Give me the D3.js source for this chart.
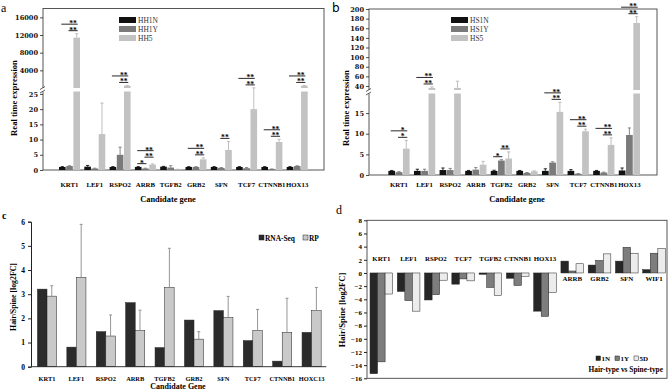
<!DOCTYPE html>
<html>
<head>
<meta charset="utf-8">
<script src="https://cdn.jsdelivr.net/npm/d3@7"></script>
<style>
  body { margin: 0; background: #fff; }
  svg text { font-family: "Liberation Serif", "Times New Roman", serif; }
</style>
</head>
<body>
<svg id="fig" width="669" height="390"></svg>
<script>
// ---------- data ----------
const genesAB = ["KRT1", "LEF1", "RSPO2", "ARRB", "TGFB2", "GRB2", "SFN", "TCF7", "CTNNB1", "HOX13"];

// panel a: hair-type groups
const seriesA = ["HH1N", "HH1Y", "HH5"];
const hh1n = [1.0, 1.1, 1.0, 1.0, 1.1, 1.0, 1.0, 1.0, 1.0, 1.0];
const hh1nSd = [0.1, 0.4, 0.1, 0.1, 0.1, 0.1, 0.1, 0.1, 0.1, 0.1];
const hh1y = [1.3, 0.5, 5.0, 0.5, 0.8, 1.0, 0.7, 0.6, 0.3, 1.3];
const hh1ySd = [0.1, 0.1, 2.5, 0.1, 0.6, 0.1, 0.1, 0.2, 0.05, 0.1];
const hh5 = [11400, 11.8, 500, 1.8, 0.2, 3.5, 6.6, 20.0, 9.2, 500];
const hh5Sd = [900, 10.2, 80, 0.2, 0.05, 0.5, 2.8, 6.0, 0.9, 80];
const sigA = [
  ["KRT1", "HH1Y", "HH5", "**"], ["KRT1", "HH1N", "HH5", "**"],
  ["RSPO2", "HH1Y", "HH5", "**"], ["RSPO2", "HH1N", "HH5", "**"],
  ["ARRB", "HH1N", "HH1Y", "*"], ["ARRB", "HH1Y", "HH5", "**"], ["ARRB", "HH1N", "HH5", "**"],
  ["GRB2", "HH1Y", "HH5", "**"], ["GRB2", "HH1N", "HH5", "**"],
  ["SFN", "HH1Y", "HH5", "**"],
  ["TCF7", "HH1Y", "HH5", "**"], ["TCF7", "HH1N", "HH5", "**"],
  ["CTNNB1", "HH1Y", "HH5", "**"], ["CTNNB1", "HH1N", "HH5", "**"],
  ["HOX13", "HH1Y", "HH5", "**"], ["HOX13", "HH1N", "HH5", "**"]
];

// panel b: spine-type groups
const seriesB = ["HS1N", "HS1Y", "HS5"];
const hs1n = [1.0, 1.0, 1.2, 1.0, 1.0, 1.0, 1.0, 1.0, 1.0, 1.1];
const hs1nSd = [0.1, 0.4, 0.5, 0.1, 0.15, 0.1, 0.5, 0.3, 0.1, 0.6];
const hs1y = [0.7, 1.0, 1.2, 1.3, 3.5, 0.5, 3.0, 0.3, 0.6, 9.7];
const hs1ySd = [0.1, 0.4, 0.4, 0.5, 0.2, 0.1, 0.2, 0.05, 0.1, 1.7];
const hs5 = [6.4, 36, 36, 2.5, 4.0, 0.9, 15.3, 10.6, 7.3, 171];
const hs5Sd = [2.0, 2, 14, 0.8, 1.6, 0.1, 2.3, 0.5, 1.7, 13];
const sigB = [
  ["KRT1", "HS1Y", "HS5", "*"], ["KRT1", "HS1N", "HS5", "*"],
  ["LEF1", "HS1Y", "HS5", "**"], ["LEF1", "HS1N", "HS5", "**"],
  ["TGFB2", "HS1N", "HS1Y", "*"], ["TGFB2", "HS1Y", "HS5", "**"],
  ["SFN", "HS1Y", "HS5", "**"], ["SFN", "HS1N", "HS5", "**"],
  ["TCF7", "HS1Y", "HS5", "**"], ["TCF7", "HS1N", "HS5", "**"],
  ["CTNNB1", "HS1Y", "HS5", "**"], ["CTNNB1", "HS1N", "HS5", "**"],
  ["HOX13", "HS1Y", "HS5", "**"], ["HOX13", "HS1N", "HS5", "**"]
];

// panel c: RNA-Seq vs RT-PCR
const genesC = ["KRT1", "LEF1", "RSPO2", "ARRB", "TGFB2", "GRB2", "SFN", "TCF7", "CTNNB1", "HOXC13"];
const seriesC = ["RNA-Seq", "RP"];
const rnaSeq = [3.21, 0.81, 1.45, 2.65, 0.79, 1.93, 2.32, 1.08, 0.23, 1.42];
const rp = [2.92, 3.7, 1.27, 1.5, 3.28, 1.14, 2.04, 1.5, 1.42, 2.32];
const rpSd = [0.43, 2.19, 0.87, 0.84, 1.62, 0.31, 0.87, 0.87, 1.41, 0.96];

// panel d: hair-type vs spine-type
const genesD = ["KRT1", "LEF1", "RSPO2", "TCF7", "TGFB2", "CTNNB1", "HOX13", "ARRB", "GRB2", "SFN", "WIF1"];
const seriesD = ["1N", "1Y", "5D"];
const d1N = [-15.3, -2.8, -4.1, -1.7, -0.2, -0.8, -5.8, 1.8, 1.2, 1.8, 0.5];
const d1Y = [-13.5, -4.2, -3.3, -0.9, -2.2, -1.9, -6.6, 0.3, 1.9, 3.9, 3.0];
const d5D = [-3.2, -5.8, -1.1, -1.2, -3.4, -0.5, -3.0, 1.4, 2.9, 3.0, 3.7];

const svg = d3.select("#fig");
const TICKFONT = "'DejaVu Serif', serif";

function styleAxis(sel, size) {
  sel.select(".domain").remove();
  sel.selectAll(".tick line").attr("stroke", "#222").attr("stroke-width", 0.8);
  sel.selectAll(".tick text")
    .style("font-family", TICKFONT)
    .style("font-weight", "bold")
    .style("font-size", size + "px")
    .attr("fill", "#111");
}

// ---------- panels a & b: broken y axis ----------
function brokenPanel(cfg) {
  const g = svg.append("g");
  const f = cfg.frame;
  const lowMax = cfg.lowDomain[1];

  const x = d3.scaleBand().domain(genesAB).range(cfg.band)
    .paddingInner(0.17).paddingOuter(0.085);
  const xs = d3.scaleBand().domain(cfg.series).range([0, x.bandwidth()]).paddingInner(0.08);
  const yLow = d3.scaleLinear().domain(cfg.lowDomain).range([f.bottom, cfg.lowTop]);
  const yUp = d3.scaleLinear().domain(cfg.upDomain).range([cfg.upBottom, f.top]);
  const yAt = v => v <= lowMax ? yLow(v) : yUp(Math.max(v, cfg.upDomain[0]));
  const cx = (gene, s) => x(gene) + xs(s) + xs.bandwidth() / 2;

  const rows = [];
  genesAB.forEach((gene, i) => cfg.series.forEach((s, j) => {
    rows.push({ gene, s, j, v: cfg.values[j][i], sd: cfg.sd[j][i] });
  }));

  // frame
  g.append("rect")
    .attr("x", f.left).attr("y", f.top)
    .attr("width", f.right - f.left).attr("height", f.bottom - f.top)
    .attr("fill", "none").attr("stroke", "#444").attr("stroke-width", 0.9);

  // bars (lower part, then upper part for values above the break)
  g.selectAll(".lo").data(rows).join("rect")
    .attr("x", d => x(d.gene) + xs(d.s))
    .attr("width", xs.bandwidth())
    .attr("y", d => yLow(Math.min(d.v, lowMax)))
    .attr("height", d => yLow(0) - yLow(Math.min(d.v, lowMax)))
    .attr("fill", d => cfg.colors[d.j]);

  g.selectAll(".hi").data(rows.filter(d => d.v > lowMax)).join("rect")
    .attr("x", d => x(d.gene) + xs(d.s))
    .attr("width", xs.bandwidth())
    .attr("y", d => yUp(d.v))
    .attr("height", d => yUp(cfg.upDomain[0]) - yUp(d.v))
    .attr("fill", d => cfg.colors[d.j]);

  // error bars
  const eb = g.selectAll(".err").data(rows).join("g")
    .attr("stroke", d => cfg.errColors[d.j]).attr("stroke-width", 0.9);
  eb.append("line")
    .attr("x1", d => cx(d.gene, d.s)).attr("x2", d => cx(d.gene, d.s))
    .attr("y1", d => yAt(d.v)).attr("y2", d => yAt(d.v + d.sd));
  eb.append("line")
    .attr("x1", d => cx(d.gene, d.s) - 1.6).attr("x2", d => cx(d.gene, d.s) + 1.6)
    .attr("y1", d => yAt(d.v + d.sd)).attr("y2", d => yAt(d.v + d.sd));

  // axes
  g.append("g").attr("transform", `translate(${f.left},0)`)
    .call(d3.axisLeft(yLow).tickValues(cfg.lowTicks).tickSize(3).tickPadding(2))
    .call(s => styleAxis(s, 6.6));
  g.append("g").attr("transform", `translate(${f.left},0)`)
    .call(d3.axisLeft(yUp).tickValues(cfg.upTicks).tickSize(3).tickPadding(2)
      .tickFormat(d3.format("d")))
    .call(s => styleAxis(s, 6.6));

  // break marks on the y axis
  g.append("rect").attr("x", f.left - 1).attr("y", cfg.upBottom)
    .attr("width", 2).attr("height", cfg.lowTop - cfg.upBottom).attr("fill", "#fff");
  [cfg.upBottom, cfg.lowTop].forEach(yb => {
    g.append("line").attr("x1", f.left - 3).attr("x2", f.left + 2)
      .attr("y1", yb + 1.5).attr("y2", yb - 1.5)
      .attr("stroke", "#333").attr("stroke-width", 0.8);
  });

  // significance brackets
  const placed = [];
  cfg.sig.forEach(([gene, from, to, label]) => {
    const i0 = cfg.series.indexOf(from), i1 = cfg.series.indexOf(to);
    const gi = genesAB.indexOf(gene);
    let y = Infinity;
    for (let j = i0; j <= i1; j++) {
      y = Math.min(y, yAt(cfg.values[j][gi] + cfg.sd[j][gi]) - 3);
    }
    placed.filter(p => p.gene === gene && p.i0 <= i1 && p.i1 >= i0)
      .forEach(p => { y = Math.min(y, p.y - 6.5); });
    placed.push({ gene, i0, i1, y });
    const xl = cx(gene, from) - 1, xr = cx(gene, to) + 1;
    const xt = (cx(gene, to) + cx(gene, cfg.series[i1 - 1])) / 2;
    g.append("line").attr("x1", xl).attr("x2", xr).attr("y1", y).attr("y2", y)
      .attr("stroke", "#111").attr("stroke-width", 0.9);
    g.append("text").attr("x", xt).attr("y", y + 2)
      .attr("text-anchor", "middle")
      .style("font-size", "7.6px").style("font-weight", "bold")
      .text(label);
  });

  // gene labels
  g.selectAll(".gl").data(genesAB).join("text")
    .attr("x", d => x(d) + x.bandwidth() / 2)
    .attr("y", cfg.geneY)
    .attr("text-anchor", "middle")
    .style("font-size", "6.8px").style("font-weight", "bold")
    .text(d => d);

  g.append("text").attr("x", cfg.titleX).attr("y", cfg.titleY)
    .attr("text-anchor", "middle")
    .style("font-size", "8.4px").style("font-weight", "bold")
    .text("Candidate gene");

  g.append("text")
    .attr("transform", `translate(${cfg.ylabX},${cfg.ylabY}) rotate(-90)`)
    .attr("text-anchor", "middle")
    .style("font-size", "8.6px").style("font-weight", "bold")
    .text("Real time expression");

  // legend
  const lg = g.append("g");
  cfg.series.forEach((s, j) => {
    lg.append("rect").attr("x", cfg.legX).attr("y", cfg.legY + j * 9 - 3)
      .attr("width", 17).attr("height", 6).attr("fill", cfg.colors[j]);
    lg.append("text").attr("x", cfg.legX + 19).attr("y", cfg.legY + j * 9 + 2.5)
      .style("font-size", "7.5px").attr("fill", "#333")
      .text(s);
  });

  svg.append("text").attr("x", cfg.letterX).attr("y", cfg.letterY)
    .style("font-size", "12px").style("font-family", cfg.letterFont || "inherit")
    .text(cfg.letter);
}

const barGreys = ["#111111", "#7a7a7a", "#c2c2c2"];
const errGreys = ["#111111", "#7a7a7a", "#b8b8b8"];

brokenPanel({
  frame: { left: 43, right: 324, top: 8.5, bottom: 170 },
  band: [56.85, 309.85],
  series: seriesA,
  values: [hh1n, hh1y, hh5],
  sd: [hh1nSd, hh1ySd, hh5Sd],
  colors: barGreys, errColors: errGreys,
  lowDomain: [0, 25.8], lowTop: 91.5,
  upDomain: [0, 18000], upBottom: 88,
  lowTicks: [0, 5, 10, 15, 20, 25],
  upTicks: [4000, 8000, 12000, 16000],
  sig: sigA,
  geneY: 187, titleX: 168, titleY: 202,
  ylabX: 17, ylabY: 98,
  legX: 119, legY: 20,
  letter: "a", letterX: 1, letterY: 12
});

brokenPanel({
  frame: { left: 369, right: 657, top: 9, bottom: 175 },
  band: [386.2, 642.2],
  series: seriesB,
  values: [hs1n, hs1y, hs5],
  sd: [hs1nSd, hs1ySd, hs5Sd],
  colors: barGreys, errColors: errGreys,
  lowDomain: [0, 19.75], lowTop: 93.5,
  upDomain: [31.7, 200], upBottom: 90,
  lowTicks: [0, 5, 10, 15],
  upTicks: [40, 60, 80, 100, 120, 140, 160, 180, 200],
  sig: sigB,
  geneY: 187, titleX: 517, titleY: 202,
  ylabX: 349, ylabY: 108,
  legX: 451, legY: 20,
  letter: "b", letterX: 332, letterY: 12, letterFont: "'DejaVu Sans', sans-serif"
});

// ---------- panel c ----------
(function panelC() {
  const g = svg.append("g");
  const x = d3.scaleBand().domain(genesC).range([32.3, 326.3])
    .paddingInner(0.35).paddingOuter(0.175);
  const xs = d3.scaleBand().domain(seriesC).range([0, x.bandwidth()]);
  const y = d3.scaleLinear().domain([0, 6]).range([366.7, 221.7]);
  const colors = ["#2b2b2b", "#c9c9c9"];

  const rows = [];
  genesC.forEach((gene, i) => {
    rows.push({ gene, s: "RNA-Seq", j: 0, v: rnaSeq[i], sd: 0 });
    rows.push({ gene, s: "RP", j: 1, v: rp[i], sd: rpSd[i] });
  });

  g.selectAll(".bar").data(rows).join("rect")
    .attr("x", d => x(d.gene) + xs(d.s))
    .attr("width", xs.bandwidth())
    .attr("y", d => y(d.v))
    .attr("height", d => y(0) - y(d.v))
    .attr("fill", d => colors[d.j])
    .attr("stroke", "#222").attr("stroke-width", 0.5);

  const eb = g.selectAll(".err").data(rows.filter(d => d.sd > 0)).join("g")
    .attr("stroke", "#8a8a8a").attr("stroke-width", 0.9);
  const ecx = d => x(d.gene) + xs(d.s) + xs.bandwidth() / 2;
  eb.append("line").attr("x1", ecx).attr("x2", ecx)
    .attr("y1", d => y(d.v)).attr("y2", d => y(d.v + d.sd));
  eb.append("line").attr("x1", d => ecx(d) - 1.5).attr("x2", d => ecx(d) + 1.5)
    .attr("y1", d => y(d.v + d.sd)).attr("y2", d => y(d.v + d.sd));

  const ya = g.append("g").attr("transform", "translate(31,0)")
    .call(d3.axisLeft(y).ticks(6).tickSize(3).tickPadding(3));
  ya.select(".domain").attr("stroke", "#222");
  ya.selectAll(".tick line").attr("stroke", "#222");
  ya.selectAll(".tick text").style("font-size", "7.5px").style("font-weight", "bold")
    .style("font-family", "'Liberation Serif', serif");

  // category axis
  g.append("line").attr("x1", 31).attr("x2", 326.3).attr("y1", y(0)).attr("y2", y(0))
    .attr("stroke", "#222").attr("stroke-width", 0.9);

  g.selectAll(".gl").data(genesC).join("text")
    .attr("x", d => x(d) + x.bandwidth() / 2)
    .attr("y", 380.5)
    .attr("text-anchor", "middle")
    .style("font-size", "6.4px").style("font-weight", "bold")
    .text(d => d);

  g.append("text").attr("x", 178).attr("y", 388.5).attr("text-anchor", "middle")
    .style("font-size", "8px").style("font-weight", "bold").text("Candidate Gene");

  g.append("text").attr("transform", "translate(16,297) rotate(-90)")
    .attr("text-anchor", "middle")
    .style("font-size", "7.8px").style("font-weight", "bold")
    .text("Hair/Spine [log2FC]");

  // legend
  const leg = [["RNA-Seq", 259], ["RP", 303]];
  leg.forEach(([s, lx], j) => {
    g.append("rect").attr("x", lx).attr("y", 235).attr("width", 5).attr("height", 5)
      .attr("fill", colors[j]).attr("stroke", "#222").attr("stroke-width", 0.5);
    g.append("text").attr("x", lx + 6).attr("y", 240.5)
      .style("font-size", "7.4px").style("font-weight", "bold").text(s);
  });

  svg.append("text").attr("x", 2).attr("y", 219)
    .style("font-size", "10px").style("font-weight", "bold").text("c");
})();

// ---------- panel d ----------
(function panelD() {
  const g = svg.append("g");
  const x = d3.scaleBand().domain(genesD).range([367.7, 667.7])
    .paddingInner(0.17).paddingOuter(0.085);
  const xs = d3.scaleBand().domain(seriesD).range([0, x.bandwidth()]);
  const y = d3.scaleLinear().domain([-16, 8]).range([378.3, 220.3]);
  const colors = ["#262626", "#7d7d7d", "#ececec"];
  const vals = [d1N, d1Y, d5D];

  g.append("rect").attr("x", 367).attr("y", y(8))
    .attr("width", 667 - 367).attr("height", y(-16) - y(8))
    .attr("fill", "none").attr("stroke", "#444").attr("stroke-width", 0.9);

  const rows = [];
  genesD.forEach((gene, i) => seriesD.forEach((s, j) => rows.push({ gene, s, j, v: vals[j][i] })));

  g.selectAll(".bar").data(rows).join("rect")
    .attr("x", d => x(d.gene) + xs(d.s))
    .attr("width", xs.bandwidth())
    .attr("y", d => y(Math.max(0, d.v)))
    .attr("height", d => Math.abs(y(d.v) - y(0)))
    .attr("fill", d => colors[d.j])
    .attr("stroke", "#222").attr("stroke-width", 0.5);

  const ya = g.append("g").attr("transform", "translate(367,0)")
    .call(d3.axisLeft(y).tickValues(d3.range(-16, 9, 2)).tickSize(3).tickPadding(2));
  ya.select(".domain").remove();
  ya.selectAll(".tick line").attr("stroke", "#222");
  ya.selectAll(".tick text").style("font-size", "7px").style("font-weight", "bold")
    .style("font-family", "'Liberation Serif', serif");

  // gene labels sit above the zero line for down-regulated genes, below for up-regulated
  g.selectAll(".gl").data(genesD).join("text")
    .attr("x", d => x(d) + x.bandwidth() / 2)
    .attr("y", (d, i) => d1N[i] + d1Y[i] + d5D[i] < 0 ? y(0) - 12 : y(0) + 8)
    .attr("text-anchor", "middle")
    .style("font-size", "6.9px").style("font-weight", "bold")
    .text(d => d);

  g.append("text").attr("transform", "translate(345,310) rotate(-90)")
    .attr("text-anchor", "middle")
    .style("font-size", "8.6px").style("font-weight", "bold")
    .text("Hair/Spine [log2FC]");

  const leg = [["1N", 596], ["1Y", 615], ["5D", 634]];
  leg.forEach(([s, lx], j) => {
    g.append("rect").attr("x", lx).attr("y", 356).attr("width", 4.5).attr("height", 4.5)
      .attr("fill", colors[j]).attr("stroke", "#222").attr("stroke-width", 0.5);
    g.append("text").attr("x", lx + 5.5).attr("y", 361)
      .style("font-size", "7px").style("font-weight", "bold").text(s);
  });
  g.append("text").attr("x", 663).attr("y", 372).attr("text-anchor", "end")
    .style("font-size", "7.4px").style("font-weight", "bold").text("Hair-type vs Spine-type");

  svg.append("text").attr("x", 336).attr("y", 214)
    .style("font-size", "12px").text("d");
})();
</script>
</body>
</html>
